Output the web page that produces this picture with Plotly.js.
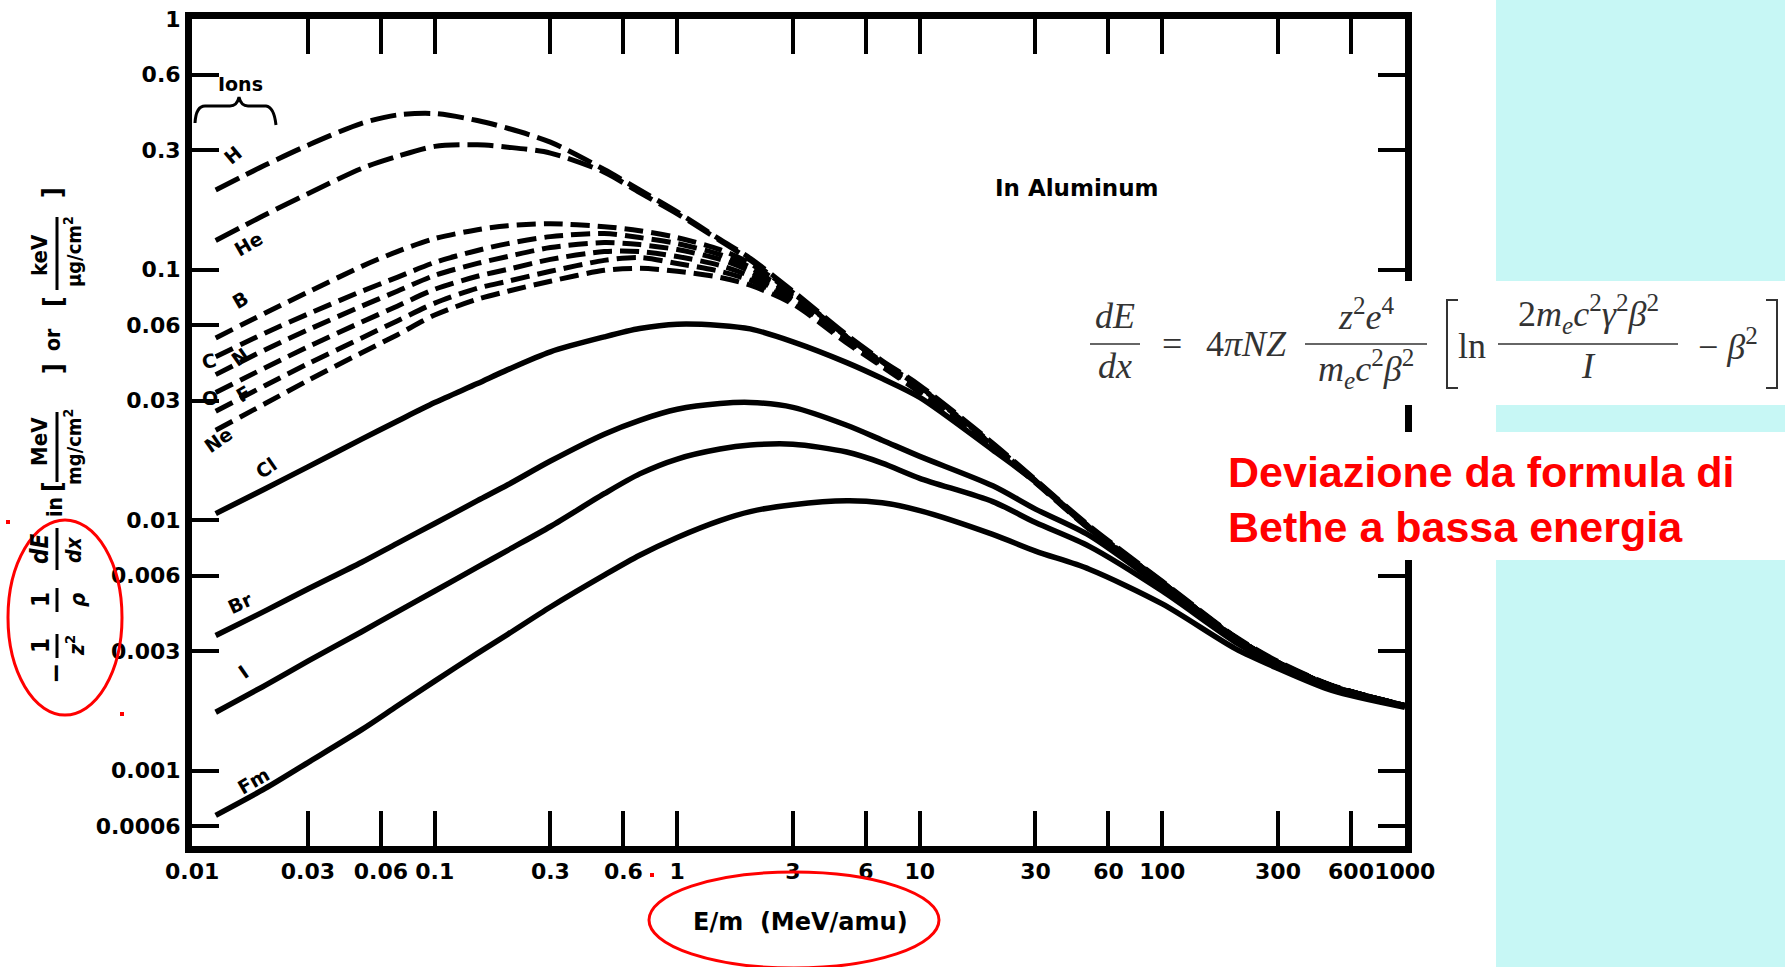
<!DOCTYPE html>
<html>
<head>
<meta charset="utf-8">
<script src="https://cdn.plot.ly/plotly-3.0.1.min.js"></script>
<style>
  html, body { margin: 0; padding: 0; background: #ffffff; }
  #chart { width: 1785px; height: 967px; }
</style>
</head>
<body>
<div id="chart"></div>
<script>
// ---------------- DATA ----------------
// Energy per nucleon (MeV/amu)
const energy = [0.0125, 0.02, 0.03, 0.05, 0.07, 0.1, 0.15, 0.2, 0.3, 0.5, 0.7, 1, 1.5, 2, 3, 5, 7, 10, 20, 30, 50, 100, 200, 300, 500, 1000];

// -(1/z^2)(1/rho) dE/dx  in MeV/(mg/cm^2)
const stopH  = [0.208, 0.2615, 0.314, 0.384, 0.4145, 0.420, 0.394, 0.367, 0.323, 0.251, 0.208, 0.170, 0.132, 0.111, 0.082, 0.0549, 0.0433, 0.0345, 0.0203, 0.0145, 0.0095, 0.0057, 0.003425, 0.002727, 0.00219, 0.00182];
const stopHe = [0.1307, 0.1657, 0.201, 0.2537, 0.283, 0.3107, 0.315, 0.3084, 0.2921, 0.2452, 0.203, 0.167, 0.1307, 0.109, 0.081, 0.054, 0.0428, 0.0341, 0.0201, 0.0144, 0.0094, 0.00566, 0.0034, 0.00271, 0.00218, 0.00182];
const stopB  = [0.0534, 0.0671, 0.0813, 0.1031, 0.1181, 0.1331, 0.1444, 0.1498, 0.1526, 0.1485, 0.1431, 0.1343, 0.1203, 0.1059, 0.0805, 0.0539, 0.0429, 0.0339, 0.0200, 0.0144, 0.0094, 0.00565, 0.0034, 0.0027, 0.00218, 0.00182];
const stopC  = [0.0449, 0.0559, 0.0665, 0.0820, 0.0932, 0.1069, 0.1193, 0.1271, 0.1355, 0.1393, 0.1343, 0.1271, 0.1149, 0.1021, 0.0784, 0.0534, 0.0425, 0.0336, 0.0199, 0.0143, 0.0094, 0.00564, 0.0034, 0.0027, 0.00218, 0.00182];
const stopN  = [0.0381, 0.0479, 0.0575, 0.0715, 0.0820, 0.0949, 0.1059, 0.1129, 0.1226, 0.1283, 0.1259, 0.1203, 0.1099, 0.0985, 0.0770, 0.0529, 0.0421, 0.0332, 0.0198, 0.0143, 0.0093, 0.00563, 0.0034, 0.0027, 0.00218, 0.00182];
const stopO  = [0.0323, 0.0406, 0.0492, 0.0618, 0.0715, 0.0835, 0.0941, 0.1003, 0.1099, 0.1181, 0.1181, 0.1129, 0.1040, 0.0941, 0.0756, 0.0525, 0.0418, 0.0329, 0.0197, 0.0142, 0.0093, 0.00562, 0.0034, 0.0027, 0.00218, 0.00182];
const stopF  = [0.0272, 0.0345, 0.0421, 0.0534, 0.0624, 0.0735, 0.0843, 0.0899, 0.0985, 0.1089, 0.1119, 0.1059, 0.0985, 0.0907, 0.0742, 0.0520, 0.0414, 0.0326, 0.0196, 0.0142, 0.0093, 0.00561, 0.0034, 0.0027, 0.00218, 0.00182];
const stopNe = [0.02286, 0.0292, 0.0361, 0.0466, 0.0549, 0.0659, 0.0762, 0.0820, 0.0899, 0.0994, 0.1012, 0.0985, 0.0932, 0.0867, 0.0729, 0.0510, 0.0410, 0.0323, 0.0195, 0.0141, 0.0092, 0.0056, 0.0034, 0.0027, 0.00218, 0.00182];
const stopCl = [0.01062, 0.01335, 0.01631, 0.02105, 0.02482, 0.02946, 0.0351, 0.0399, 0.0470, 0.0539, 0.0582, 0.0606, 0.0599, 0.0580, 0.0515, 0.04256, 0.03675, 0.0309, 0.01905, 0.01422, 0.00926, 0.00561, 0.00338, 0.00269, 0.00217, 0.00181];
const stopBr = [0.00346, 0.004343, 0.005308, 0.006791, 0.008078, 0.009694, 0.01196, 0.01384, 0.01722, 0.02204, 0.02504, 0.0277, 0.0292, 0.0295, 0.0282, 0.02392, 0.02085, 0.01797, 0.01371, 0.01107, 0.00869, 0.00541, 0.00334, 0.00266, 0.00215, 0.00181];
const stopI  = [0.00171, 0.00219, 0.002734, 0.003585, 0.004303, 0.005212, 0.006488, 0.007578, 0.009432, 0.01275, 0.0153, 0.01754, 0.01922, 0.01994, 0.0201, 0.0187, 0.0169, 0.01469, 0.01186, 0.00978, 0.00786, 0.00521, 0.00326, 0.00262, 0.00213, 0.0018];
const stopFm = [0.000663, 0.000849, 0.001077, 0.001457, 0.00181, 0.002276, 0.002938, 0.0035, 0.0045, 0.00603, 0.00724, 0.00853, 0.00996, 0.01082, 0.01153, 0.01196, 0.01174, 0.01092, 0.00877, 0.00752, 0.00637, 0.00463, 0.00307, 0.002558, 0.00209, 0.00179];

const dashedIons = ["H", "He", "B", "C", "N", "O", "F", "Ne"];
const solidIons  = ["Cl", "Br", "I", "Fm"];

const xTickVals = [0.01, 0.03, 0.06, 0.1, 0.3, 0.6, 1, 3, 6, 10, 30, 60, 100, 300, 600, 1000];
const xTickText = ["0.01", "0.03", "0.06", "0.1", "0.3", "0.6", "1", "3", "6", "10", "30", "60", "100", "300", "600", "1000"];
const yTickVals = [1, 0.6, 0.3, 0.1, 0.06, 0.03, 0.01, 0.006, 0.003, 0.001, 0.0006];
const yTickText = ["1", "0.6", "0.3", "0.1", "0.06", "0.03", "0.01", "0.006", "0.003", "0.001", "0.0006"];

// ---------------- LAYOUT HELPERS ----------------
const L = 192, T = 19, W = 1213, H = 827;
const px = x => (x - L) / W;
const py = y => 1 - (y - T) / H;

const seriesMap = { H: stopH, He: stopHe, B: stopB, C: stopC, N: stopN, O: stopO, F: stopF, Ne: stopNe,
                    Cl: stopCl, Br: stopBr, I: stopI, Fm: stopFm };

const traces = [];
dashedIons.forEach(ion => {
  const light = (ion === "H" || ion === "He");
  traces.push({
    x: energy, y: seriesMap[ion], type: "scatter", mode: "lines", name: ion,
    hoverinfo: "skip",
    line: { color: "#000", width: 5, dash: light ? "26px,8px" : "19px,8px", shape: "spline", smoothing: 0.8 }
  });
});
solidIons.forEach(ion => {
  traces.push({
    x: energy, y: seriesMap[ion], type: "scatter", mode: "lines", name: ion,
    hoverinfo: "skip",
    line: { color: "#000", width: 5.5, shape: "spline", smoothing: 0.8 }
  });
});

const tickFont = { family: "DejaVu Sans, Liberation Sans, sans-serif", size: 22, color: "#000", weight: "bold" };
const labFont = { family: "DejaVu Sans, Liberation Sans, sans-serif", size: 19, color: "#000", weight: "bold" };
const narrowFont = (s) => ({ family: "Liberation Sans Narrow, DejaVu Sans Condensed, Liberation Sans, sans-serif", size: s, color: "#000", weight: "bold" });
const serif = (s) => ({ family: "Liberation Serif, DejaVu Serif, serif", size: s, color: "#333" });

function ann(x, y, text, font, angle, extra) {
  return Object.assign({ xref: "paper", yref: "paper", x: px(x), y: py(y), text: text, showarrow: false,
    xanchor: "center", yanchor: "middle", font: font, textangle: angle || 0 }, extra || {});
}
function hline(x0, x1, y, w, c) {
  return { type: "line", xref: "paper", yref: "paper", x0: px(x0), x1: px(x1), y0: py(y), y1: py(y),
           line: { color: c || "#333", width: w || 1.5 }, layer: "above" };
}
function vline(x, y0, y1, w, c) {
  return { type: "line", xref: "paper", yref: "paper", x0: px(x), x1: px(x), y0: py(y0), y1: py(y1),
           line: { color: c || "#000", width: w || 3 }, layer: "above" };
}
function rect(x0, x1, y0, y1, color, layer) {
  return { type: "rect", xref: "paper", yref: "paper", x0: px(x0), x1: px(x1), y0: py(y0), y1: py(y1),
           fillcolor: color, line: { width: 0 }, layer: layer || "above" };
}
function pathShape(pts, color, w) {
  let d = "";
  pts.forEach(p => {
    d += p[0];
    for (let i = 1; i < p.length; i += 2) d += " " + px(p[i]).toFixed(5) + "," + py(p[i + 1]).toFixed(5) + " ";
  });
  return { type: "path", xref: "paper", yref: "paper", path: d, line: { color: color, width: w }, layer: "above" };
}

const redFont = { family: "Liberation Sans, Arial, sans-serif", size: 43, color: "#ff0000", weight: "bold" };

const annotations = [
  // curve labels
  ann(240, 84, "Ions", labFont, 0),
  ann(233, 155, "H", labFont, -40),
  ann(248, 244, "He", labFont, -30),
  ann(240, 300, "B", labFont, -30),
  ann(209, 361, "C", labFont, -15),
  ann(240, 357, "N", labFont, -35),
  ann(210, 398, "O", labFont, 0),
  ann(243, 394, "F", labFont, -30),
  ann(218, 440, "Ne", labFont, -35),
  ann(266, 468, "Cl", labFont, -35),
  ann(240, 603, "Br", labFont, -25),
  ann(243, 672, "I", labFont, -35),
  ann(253, 781, "Fm", labFont, -30),
  ann(1077, 188, "In Aluminum", Object.assign({}, tickFont, { size: 23 }), 0),
  // x-axis title
  ann(800, 922, "E/m  (MeV/amu)", Object.assign({}, tickFont, { size: 24 }), 0),
  // y-axis title pieces (rotated)
  ann(55, 674, "−", narrowFont(28), -90),
  ann(41, 646, "1", narrowFont(24), -90),
  ann(75, 646, "<i>z</i><sup>2</sup>", narrowFont(21), -90),
  ann(41, 600, "1", narrowFont(24), -90),
  ann(77, 600, "<i>ρ</i>", narrowFont(22), -90),
  ann(40, 549, "<i>dE</i>", narrowFont(24), -90),
  ann(74, 550, "<i>dx</i>", narrowFont(21), -90),
  ann(55, 507, "in", narrowFont(21), -90),
  ann(52, 487, "[", narrowFont(26), -90),
  ann(40, 442, "MeV", narrowFont(22), -90),
  ann(73, 447, "mg/cm<sup>2</sup>", narrowFont(20), -90),
  ann(53, 369, "]", narrowFont(26), -90),
  ann(53, 340, "or", narrowFont(21), -90),
  ann(53, 302, "[", narrowFont(26), -90),
  ann(40, 255, "keV", narrowFont(22), -90),
  ann(73, 252, "μg/cm<sup>2</sup>", narrowFont(20), -90),
  ann(52, 193, "]", narrowFont(26), -90),
  // Bethe formula
  ann(1115, 316, "<i>dE</i>", serif(36), 0),
  ann(1115, 366, "<i>dx</i>", serif(36), 0),
  ann(1172, 344, "=", serif(36), 0),
  ann(1246, 344, "4<i>πNZ</i>", serif(36), 0),
  ann(1366, 314, "<i>z</i><sup>2</sup><i>e</i><sup>4</sup>", serif(36), 0),
  ann(1366, 369, "<i>m<sub>e</sub>c</i><sup>2</sup><i>β</i><sup>2</sup>", serif(36), 0),
  ann(1472, 346, "ln", serif(36), 0),
  ann(1588, 314, "2<i>m<sub>e</sub>c</i><sup>2</sup><i>γ</i><sup>2</sup><i>β</i><sup>2</sup>", serif(36), 0),
  ann(1588, 366, "<i>I</i>", serif(36), 0),
  ann(1728, 344, "− <i>β</i><sup>2</sup>", serif(36), 0),
  // red note
  ann(1226, 472, "Deviazione da formula di", redFont, 0, { xanchor: "left" }),
  ann(1226, 527, "Bethe a bassa energia", redFont, 0, { xanchor: "left" })
];

const shapes = [
  // cyan side panel
  rect(1496, 1790, -5, 281, "#c7f7f5", "below"),
  rect(1496, 1790, 405, 432, "#c7f7f5", "below"),
  rect(1496, 1790, 560, 972, "#c7f7f5", "below"),
  // white boxes hiding the right axis behind the formula and the note
  rect(1378, 1496, 281, 405, "#ffffff", "above"),
  rect(1378, 1496, 432, 560, "#ffffff", "above"),
  // fraction bars (y title)
  vline(57, 634, 658, 3), vline(57, 588, 612, 3), vline(57, 528, 570, 3),
  vline(57, 412, 482, 3), vline(57, 217, 290, 3),
  // formula bars and brackets
  hline(1090, 1140, 344, 1.5), hline(1305, 1427, 344, 1.5), hline(1498, 1678, 344, 1.5),
  pathShape([["M", 1458, 300], ["L", 1447, 300], ["L", 1447, 388], ["L", 1458, 388]], "#333", 2),
  pathShape([["M", 1766, 300], ["L", 1777, 300], ["L", 1777, 388], ["L", 1766, 388]], "#333", 2),
  // "Ions" brace
  pathShape([["M", 195, 123], ["Q", 196, 106, 205, 106], ["L", 230, 106], ["Q", 237, 106, 239, 97],
             ["Q", 241, 106, 248, 106], ["L", 266, 106], ["Q", 274, 107, 276, 125]], "#000", 3),
  // red ellipses
  { type: "circle", xref: "paper", yref: "paper", x0: px(8), x1: px(122), y0: py(520), y1: py(715),
    line: { color: "#ff0000", width: 3 }, layer: "above" },
  { type: "circle", xref: "paper", yref: "paper", x0: px(649), x1: px(939), y0: py(872), y1: py(968),
    line: { color: "#ff0000", width: 3 }, layer: "above" },
  // tiny red marks
  rect(6, 10, 520, 524, "#ff0000", "above"),
  rect(120, 124, 712, 716, "#ff0000", "above"),
  rect(650, 654, 873, 877, "#ff0000", "above")
];

const axisCommon = {
  type: "log", showline: true, linewidth: 7, linecolor: "#000", mirror: "ticks",
  ticks: "inside", tickwidth: 4, tickcolor: "#000", showgrid: false, zeroline: false,
  tickfont: tickFont, tickmode: "array", tickangle: 0
};

const layout = {
  width: 1785, height: 967,
  margin: { l: L, r: 1785 - L - W, t: T, b: 967 - T - H, pad: 0 },
  paper_bgcolor: "#ffffff", plot_bgcolor: "#ffffff",
  showlegend: false,
  xaxis: Object.assign({}, axisCommon, {
    range: [-2.0008, 3.0008], ticklen: 35, tickvals: xTickVals, ticktext: xTickText
  }),
  yaxis: Object.assign({}, axisCommon, {
    range: [Math.log10(0.0005), 0.0008], ticklen: 27, tickvals: yTickVals, ticktext: yTickText
  }),
  annotations: annotations,
  shapes: shapes
};

Plotly.newPlot("chart", traces, layout, { staticPlot: true, displayModeBar: false });
</script>
</body>
</html>
